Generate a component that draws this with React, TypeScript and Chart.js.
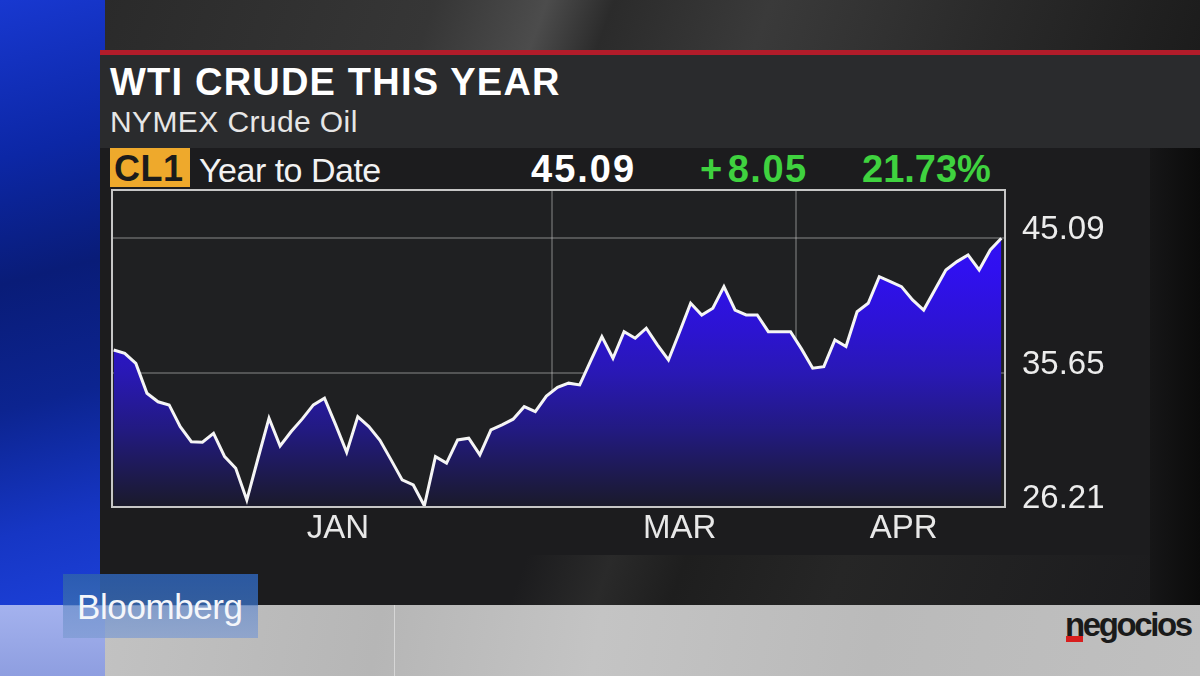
import React, { useEffect, useRef } from "react";
import { Chart, registerables } from "chart.js";

Chart.register(...registerables);

// Trading sessions: 0 = 31 Dec 2015 ... 80 = 27 Apr 2016
const sessionIndex = [
  0, 1, 2, 3, 4, 5, 6, 7, 8, 9, 10, 11, 12, 13, 14, 15, 16, 17, 18, 19,
  20, 21, 22, 23, 24, 25, 26, 27, 28, 29, 30, 31, 32, 33, 34, 35, 36, 37, 38, 39,
  40, 41, 42, 43, 44, 45, 46, 47, 48, 49, 50, 51, 52, 53, 54, 55, 56, 57, 58, 59,
  60, 61, 62, 63, 64, 65, 66, 67, 68, 69, 70, 71, 72, 73, 74, 75, 76, 77, 78, 79, 80,
];

const prices = [
  37.24, 37.0, 36.3, 34.2, 33.6, 33.38, 31.85, 30.8, 30.76, 31.39,
  29.75, 28.93, 26.7, 29.6, 32.45, 30.5, 31.51, 32.4, 33.38, 33.85,
  32.0, 30.05, 32.56, 31.86, 30.9, 29.52, 28.11, 27.76, 26.3, 29.75,
  29.29, 30.92, 31.04, 29.87, 31.63, 31.98, 32.38, 33.26, 32.91, 34.0,
  34.62, 34.91, 34.79, 36.5, 38.18, 36.66, 38.53, 38.07, 38.77, 37.6,
  36.54, 38.5, 40.52, 39.7, 40.17, 41.69, 40.05, 39.7, 39.7, 38.53,
  38.53, 38.53, 37.3, 35.96, 36.07, 37.95, 37.48, 39.93, 40.52, 42.39,
  42.04, 41.69, 40.76, 40.05, 41.46, 42.86, 43.45, 43.92, 42.86, 44.27, 45.09,
];

const yTickValues = [26.21, 35.65, 45.09];
const monthLabels = ["JAN", "MAR", "APR"];
const monthLabelSessions = [20.2, 51, 71.2];
const monthBoundarySessions = [39.5, 61.5];

const headerTicker = "CL1";
const headerPeriod = "Year to Date";
const headerLast = "45.09";
const headerPct = "21.73%";

const FONT = '"Liberation Sans", Arial, Helvetica, sans-serif';

const framePlugin = {
  id: "frame",
  beforeDraw(chart: any) {
    const { ctx, chartArea: a } = chart;
    ctx.save();
    ctx.fillStyle = "#1f2022";
    ctx.fillRect(a.left, a.top, a.right - a.left, a.bottom - a.top);
    ctx.restore();
  },
  afterDraw(chart: any) {
    const { ctx, chartArea: a } = chart;
    ctx.save();
    ctx.strokeStyle = "#c6c6c6";
    ctx.lineWidth = 2;
    ctx.strokeRect(a.left, a.top, a.right - a.left, a.bottom - a.top);
    ctx.restore();
  },
};

const noPad = (s: any) => {
  s.paddingTop = 0;
  s.paddingBottom = 0;
  s.paddingLeft = 0;
  s.paddingRight = 0;
};

function PriceChart() {
  const ref = useRef<HTMLCanvasElement | null>(null);
  useEffect(() => {
    if (!ref.current) return;
    const chart = new Chart(ref.current, {
      type: "line",
      data: {
        datasets: [
          {
            data: prices.map((p, i) => ({ x: sessionIndex[i], y: p })),
            borderColor: "#f5f5f5",
            borderWidth: 3,
            pointRadius: 0,
            tension: 0,
            borderJoinStyle: "miter",
            fill: "start",
            backgroundColor: (ctx: any) => {
              const { chart } = ctx;
              const a = chart.chartArea;
              if (!a) return "#2a18c0";
              const g = chart.ctx.createLinearGradient(0, a.top, 0, a.bottom);
              g.addColorStop(0, "#3612fa");
              g.addColorStop(0.25, "#3010f0");
              g.addColorStop(0.45, "#2c14d0");
              g.addColorStop(0.58, "#2918b4");
              g.addColorStop(0.76, "#221a80");
              g.addColorStop(1, "#1a1a2a");
              return g;
            },
          },
        ],
      },
      options: {
        responsive: false,
        animation: false,
        devicePixelRatio: 1,
        layout: { padding: { left: 12, top: 4, right: 0, bottom: 0 } },
        plugins: { legend: { display: false }, tooltip: { enabled: false } },
        scales: {
          x: {
            type: "linear",
            min: -0.15,
            max: 80.33,
            z: 1,
            afterBuildTicks: (s: any) => {
              s.ticks = [...monthLabelSessions, ...monthBoundarySessions]
                .sort((a, b) => a - b)
                .map((v) => ({ value: v }));
            },
            afterFit: (s: any) => {
              s.height = 59;
              noPad(s);
            },
            ticks: {
              autoSkip: false,
              maxRotation: 0,
              color: "#e8e8e8",
              font: { family: FONT, size: 33 },
              padding: 2,
              callback: (v: any) => {
                const i = monthLabelSessions.indexOf(Number(v));
                return i >= 0 ? monthLabels[i] : "";
              },
            },
            grid: {
              drawTicks: false,
              lineWidth: 2,
              color: (ctx: any) =>
                ctx.tick && monthBoundarySessions.includes(ctx.tick.value)
                  ? "rgba(205,205,205,0.3)"
                  : "rgba(0,0,0,0)",
            },
            border: { display: false },
          },
          y: {
            position: "right",
            min: 26.21,
            max: 48.48,
            z: 1,
            afterBuildTicks: (s: any) => {
              s.ticks = yTickValues.map((v) => ({ value: v }));
            },
            afterFit: (s: any) => {
              s.width = 195;
              noPad(s);
            },
            ticks: {
              color: "#ececec",
              font: { family: FONT, size: 33 },
              padding: 17,
              labelOffset: -8,
              callback: (v: any) => Number(v).toFixed(2),
            },
            grid: {
              drawTicks: false,
              lineWidth: 2,
              color: (ctx: any) =>
                ctx.tick && ctx.tick.value === yTickValues[0]
                  ? "rgba(0,0,0,0)"
                  : "rgba(205,205,205,0.3)",
            },
            border: { display: false },
          },
        },
      },
      plugins: [framePlugin],
    } as any);
    return () => chart.destroy();
  }, []);
  return (
    <canvas
      ref={ref}
      width={1100}
      height={380}
      style={{ position: "absolute", left: 100, top: 186, width: 1100, height: 380 }}
    />
  );
}

const abs = (s: React.CSSProperties): React.CSSProperties => ({ position: "absolute", ...s });

export default function App() {
  return (
    <div
      style={{
        position: "fixed",
        left: 0,
        top: 0,
        width: 1200,
        height: 676,
        overflow: "hidden",
        background: "#1b1b1d",
        fontFamily: FONT,
      }}
    >
      {/* top band */}
      <div
        style={abs({
          left: 100,
          top: 0,
          width: 1100,
          height: 52,
          background:
            "linear-gradient(110deg, #2a2a2a 0%, #363636 30%, #4c4c4c 40%, #2b2b2b 46%, #3a3a3a 60%, #2a2a2a 80%, #1c1c1c 100%)",
        })}
      />
      {/* left blue strip */}
      <div
        style={abs({
          left: 0,
          top: 0,
          width: 105,
          height: 605,
          background:
            "linear-gradient(165deg, #1838d0 0%, #0c27a6 25%, #091c78 45%, #0c2490 65%, #1636c4 85%, #1c40d8 100%)",
        })}
      />
      <div
        style={abs({
          left: 0,
          top: 605,
          width: 105,
          height: 71,
          background: "linear-gradient(180deg, #a4b2ee, #8e9ee0)",
        })}
      />
      {/* red rule */}
      <div style={abs({ left: 100, top: 50, width: 1100, height: 5, background: "#b21c2a" })} />
      {/* header panel */}
      <div style={abs({ left: 100, top: 55, width: 1100, height: 93, background: "#2a2b2d" })} />
      {/* row + chart panel */}
      <div style={abs({ left: 100, top: 148, width: 1050, height: 457, background: "#1c1c1e" })} />
      <div
        style={abs({
          left: 1150,
          top: 148,
          width: 50,
          height: 457,
          background: "linear-gradient(90deg, #161617, #0b0b0b)",
        })}
      />
      <div
        style={abs({
          left: 100,
          top: 555,
          width: 1050,
          height: 50,
          background:
            "linear-gradient(110deg, #1c1c1e 0%, #1c1c1e 40%, #2a2a2a 48%, #1e1e1e 55%, #262626 70%, #1c1c1e 100%)",
        })}
      />
      {/* footer band */}
      <div
        style={abs({
          left: 105,
          top: 605,
          width: 1095,
          height: 71,
          background:
            "linear-gradient(100deg, #c2c2c2 0%, #b6b6b6 25%, #c4c4c4 45%, #bababa 70%, #c0c0c0 100%)",
        })}
      />
      <div style={abs({ left: 394, top: 605, width: 1, height: 71, background: "#d6d6d6" })} />

      {/* title texts */}
      <div
        style={abs({
          left: 110,
          top: 63,
          fontSize: 38,
          lineHeight: "38px",
          fontWeight: 700,
          color: "#ffffff",
          letterSpacing: 1.2,
          whiteSpace: "nowrap",
        })}
      >
        WTI CRUDE THIS YEAR
      </div>
      <div
        style={abs({
          left: 110,
          top: 107,
          fontSize: 30,
          lineHeight: "30px",
          color: "#e6e6e6",
          letterSpacing: 0.4,
          whiteSpace: "nowrap",
        })}
      >
        NYMEX Crude Oil
      </div>

      {/* quote row */}
      <div style={abs({ left: 110, top: 148, width: 80, height: 39, background: "#eea92c" })} />
      <div
        style={abs({
          left: 114,
          top: 151,
          fontSize: 36,
          lineHeight: "36px",
          fontWeight: 700,
          color: "#1b1b1b",
          letterSpacing: 0.5,
          whiteSpace: "nowrap",
        })}
      >
        {headerTicker}
      </div>
      <div
        style={abs({
          left: 199,
          top: 153,
          fontSize: 34,
          lineHeight: "34px",
          color: "#f2f2f2",
          letterSpacing: -0.5,
          whiteSpace: "nowrap",
        })}
      >
        {headerPeriod}
      </div>
      <div
        style={abs({
          left: 531,
          top: 150,
          fontSize: 38,
          lineHeight: "38px",
          fontWeight: 700,
          color: "#ffffff",
          letterSpacing: 2,
          whiteSpace: "nowrap",
        })}
      >
        {headerLast}
      </div>
      <div
        style={abs({
          left: 700,
          top: 150,
          fontSize: 38,
          lineHeight: "38px",
          fontWeight: 700,
          color: "#3fd23f",
          letterSpacing: 1.5,
          whiteSpace: "nowrap",
        })}
      >
        <span style={{ marginRight: 4 }}>+</span>8.05
      </div>
      <div
        style={abs({
          left: 862,
          top: 150,
          fontSize: 38,
          lineHeight: "38px",
          fontWeight: 700,
          color: "#3fd23f",
          letterSpacing: 0,
          whiteSpace: "nowrap",
        })}
      >
        {headerPct}
      </div>

      <PriceChart />

      {/* Bloomberg logo */}
      <div
        style={abs({
          left: 63,
          top: 574,
          width: 195,
          height: 64,
          background:
            "linear-gradient(180deg, rgba(45,95,175,0.9) 0%, rgba(55,105,180,0.85) 48%, rgba(110,145,205,0.75) 50%, rgba(125,155,210,0.7) 100%)",
        })}
      />
      <div
        style={abs({
          left: 77,
          top: 589,
          fontSize: 35,
          lineHeight: "35px",
          color: "#f4f6fa",
          letterSpacing: -0.4,
          whiteSpace: "nowrap",
        })}
      >
        Bloomberg
      </div>

      {/* negocios mark */}
      <div style={abs({ left: 1066, top: 636, width: 17, height: 6, background: "#d81e1e" })} />
      <div
        style={abs({
          left: 1065,
          top: 608,
          fontSize: 33,
          lineHeight: "33px",
          fontWeight: 700,
          color: "#1a1a1a",
          letterSpacing: -2.4,
          whiteSpace: "nowrap",
        })}
      >
        negocios
      </div>
    </div>
  );
}
